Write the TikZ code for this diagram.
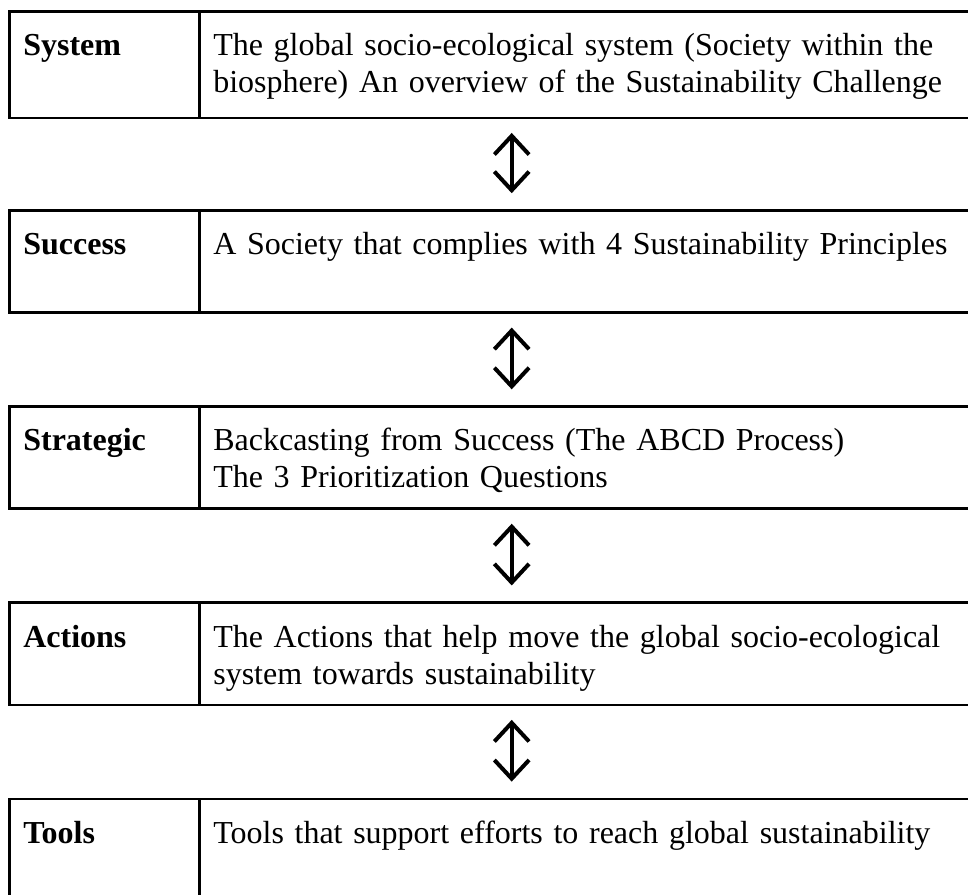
\documentclass[tikz,border=0pt]{standalone}
\usepackage{fontspec}
\setmainfont{Liberation Serif}
\usetikzlibrary{positioning}
\usetikzlibrary{calc}
\usetikzlibrary{arrows.meta}

\begin{document}
\begin{tikzpicture}[
		font=\fontsize{12pt}{13.9pt}\selectfont,
		cell/.style={draw, rectangle, line width=1pt, outer sep=0pt, inner xsep=5.1pt, inner ysep=5pt, text height=11.6pt, text depth=16.7pt, align=left},
		rowlabel/.style={cell, text width=61.05pt, font=\fontsize{12pt}{13.9pt}\selectfont\bfseries},
		rowtext/.style={cell, text width=295.05pt},
		updown/.style={{Straight Barb[length=7pt,width=13pt]}-{Straight Barb[length=7pt,width=13pt]}, line width=1.5pt, shorten <=5.6pt, shorten >=6.5pt}]
			\useasboundingbox (0,0) rectangle (363pt,-335.6pt);
			\clip (0,0) rectangle (363pt,-335.6pt);

			% the five levels, one row each
			\node[rowlabel, anchor=north west, text depth=18.4pt] (Sys) at (3.64pt,-4.24pt) {System};
			\node[rowtext, right=0pt of Sys, text depth=18.4pt] (SysD) {The global socio-ecological system (Society within the\\ biosphere) An overview of the Sustainability Challenge};

			\node[rowlabel, below=34.7pt of Sys] (Suc) {Success};
			\node[rowtext, right=0pt of Suc] (SucD) {A Society that complies with 4 Sustainability Principles};

			\node[rowlabel, below=35.25pt of Suc] (Str) {Strategic};
			\node[rowtext, right=0pt of Str] (StrD) {Backcasting from Success (The ABCD Process)\\ The 3 Prioritization Questions};

			\node[rowlabel, below=35.25pt of Str] (Act) {Actions};
			\node[rowtext, right=0pt of Act] (ActD) {The Actions that help move the global socio-ecological\\ system towards sustainability};

			\node[rowlabel, below=35.25pt of Act] (Tool) {Tools};
			\node[rowtext, right=0pt of Tool] (ToolD) {Tools that support efforts to reach global sustainability};

			% double arrows between the rows
			\draw[updown] ($(Sys.south west)!.5!(SysD.south east)$) -- ($(Suc.north west)!.5!(SucD.north east)$);
			\draw[updown] ($(Suc.south west)!.5!(SucD.south east)$) -- ($(Str.north west)!.5!(StrD.north east)$);
			\draw[updown] ($(Str.south west)!.5!(StrD.south east)$) -- ($(Act.north west)!.5!(ActD.north east)$);
			\draw[updown] ($(Act.south west)!.5!(ActD.south east)$) -- ($(Tool.north west)!.5!(ToolD.north east)$);
		\end{tikzpicture}
\end{document}
